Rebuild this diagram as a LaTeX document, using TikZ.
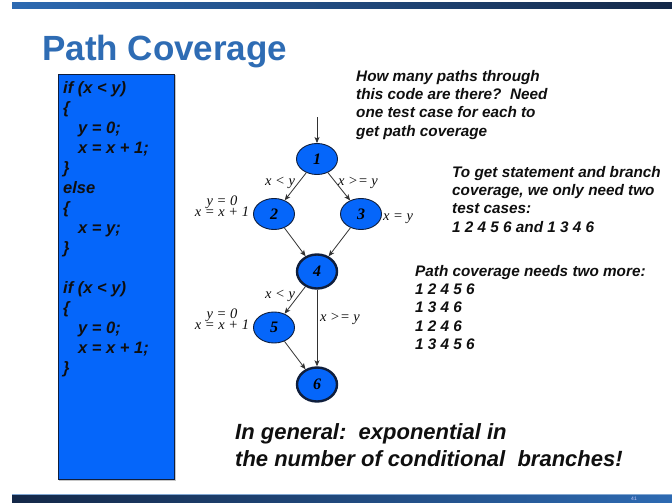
\documentclass[tikz,border=0pt]{standalone}
\usepackage{fontspec}
\setmainfont{Liberation Sans}
\newfontfamily\tnr{Liberation Serif}
\usetikzlibrary{shapes.geometric,arrows.meta}
\definecolor{boxblue}{RGB}{5,102,250}
\definecolor{titleblue}{RGB}{46,108,180}
\definecolor{barlight}{RGB}{45,106,178}
\definecolor{bardark}{RGB}{20,40,72}
\definecolor{edgegray}{RGB}{50,50,50}
\definecolor{bordnavy}{RGB}{15,30,60}
\definecolor{inktext}{RGB}{15,15,15}
\begin{document}
\begin{tikzpicture}[x=1pt,y=-1pt,
  flow/.style={ellipse,draw=bordnavy,fill=boxblue,line width=0.9pt,minimum width=41pt,minimum height=31pt,inner sep=0pt,font=\tnr\bfseries\itshape\fontsize{16}{16}\selectfont},
  heavy/.style={flow,line width=2.4pt,minimum width=40pt,minimum height=34pt},
  arr/.style={draw=edgegray,line width=0.8pt,-{Stealth[length=6pt,width=5pt,inset=1.5pt]}},
  lbl/.style={anchor=base,inner sep=0pt,text=inktext,font=\tnr\itshape\fontsize{14.5}{14.5}\selectfont},
  codeline/.style={anchor=base west,inner sep=0pt,text=inktext,font=\bfseries\itshape\fontsize{16.5}{16.5}\selectfont},
  note/.style={anchor=north west,inner sep=0pt,align=left,text=inktext,font=\bfseries\itshape\fontsize{15.3}{18.3}\selectfont}]
\fill[white] (0,0) rectangle (672,503);
\useasboundingbox (0,0) rectangle (672,503);
% bars
\shade[left color=barlight,right color=bardark] (12,2.5) rectangle (672,8.5);
\shade[left color=bardark,right color=barlight] (12,494) rectangle (672,503);
\draw[color=barlight!60!white,line width=0.6pt] (12,494) -- (672,494);
\node[inner sep=0pt,text=white!80!blue,font=\fontsize{5}{5}\selectfont] (pagenum) at (634,498.5) {41};
% title
\node[anchor=base west,inner sep=0pt,text=titleblue,font=\bfseries\fontsize{35}{35}\selectfont] (title) at (42,60) {Path Coverage};
% code box
\draw[gray!45,line width=0.8pt] (58.5,480.2) -- (175.2,480.2) -- (175.2,75);
\node[draw=bordnavy,fill=boxblue,line width=1pt,anchor=north west,inner sep=0pt,minimum width=116pt,minimum height=404pt] (codebox) at (57.5,74.5) {};
\node[codeline] (c0) at (63,93) {if (x < y)};
\node[codeline] (c1) at (63,113) {\{};
\node[codeline] (c2) at (78,133) {y = 0;};
\node[codeline] (c3) at (78,153) {x = x + 1;};
\node[codeline] (c4) at (63,173) {\}};
\node[codeline] (c5) at (63,193) {else};
\node[codeline] (c6) at (63,213) {\{};
\node[codeline] (c7) at (78,233) {x = y;};
\node[codeline] (c8) at (63,253) {\}};
\node[codeline] (c10) at (63,293) {if (x < y)};
\node[codeline] (c11) at (63,313) {\{};
\node[codeline] (c12) at (78,333) {y = 0;};
\node[codeline] (c13) at (78,353) {x = x + 1;};
\node[codeline] (c14) at (63,373) {\}};
% graph
\coordinate (start) at (317,117);
\node[flow] (n1) at (317,159) {1};
\node[flow] (n2) at (274,214) {2};
\node[flow] (n3) at (361,214) {3};
\node[heavy] (n4) at (317,271.5) {4};
\node[flow] (n5) at (274,327.5) {5};
\node[heavy] (n6) at (317,384.5) {6};
\draw[arr] (start) -- (n1);
\draw[arr] (n1) -- (n2);
\draw[arr] (n1) -- (n3);
\draw[arr] (n2) -- (n4);
\draw[arr] (n3) -- (n4);
\draw[arr] (n4) -- (n5);
\draw[arr] (n5) -- (n6);
\draw[arr] (n4) -- (n6);
% edge / node labels
\node[lbl] (l12) at (280,185) {x < y};
\node[lbl] (l13) at (358,185) {x >= y};
\node[lbl] (l3) at (398,220) {x = y};
\node[lbl] (l2b) at (222,216.5) {x = x + 1};
\node[lbl] (l2a) at (222,205.5) {y = 0};
\node[lbl] (l45) at (280,298) {x < y};
\node[lbl] (l46) at (340,321) {x >= y};
\node[lbl] (l5b) at (222,329.5) {x = x + 1};
\node[lbl] (l5a) at (222,318.5) {y = 0};
% notes
\node[note] (noteA) at (356,70) {How many paths through\\this code are there?\ \ Need\\one test case for each to\\get path coverage};
\node[note] (noteB) at (452,166) {To get statement and branch\\coverage, we only need two\\test cases:\\1 2 4 5 6 and 1 3 4 6};
\node[note] (noteC) at (415,265) {Path coverage needs two more:\\1 2 4 5 6\\1 3 4 6\\1 2 4 6\\1 3 4 5 6};
\node[anchor=north west,inner sep=0pt,align=left,text=inktext,font=\bfseries\itshape\fontsize{22}{27}\selectfont] (summary) at (235,423) {In general:\ \ exponential in\\the number of conditional\ \ branches!};
\end{tikzpicture}
\end{document}
